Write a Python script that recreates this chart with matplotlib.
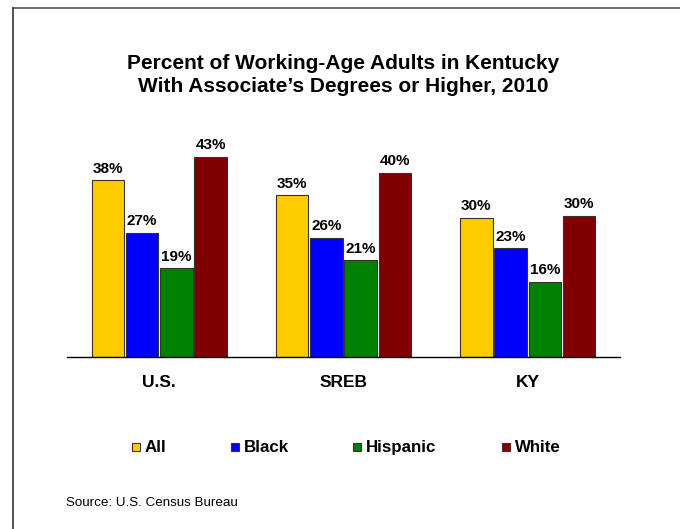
import numpy as np
import matplotlib
matplotlib.use('Agg')
import matplotlib.pyplot as plt
from matplotlib.lines import Line2D
from matplotlib.patches import Rectangle

plt.rcParams['font.family'] = ['Liberation Sans', 'DejaVu Sans']

# Data
regions = ['U.S.', 'SREB', 'KY']
groups = ['All', 'Black', 'Hispanic', 'White']
all_vals = [38.0, 34.8, 29.9]
black_vals = [26.7, 25.6, 23.4]
hispanic_vals = [19.1, 20.8, 16.1]
white_vals = [43.0, 39.6, 30.3]
colors = ['#FFCC00', '#0000FF', '#008000', '#800000']

series = [all_vals, black_vals, hispanic_vals, white_vals]

W, H = 680, 529
fig = plt.figure(figsize=(6.8, 5.29), dpi=100)
ax = fig.add_axes([67 / W, 1 - 357 / H, 553 / W, 232.5 / H])

x = np.arange(len(regions))
width = 0.176
step = 0.186
offsets = (np.arange(4) - 1.5) * step

for vals, off, col, name in zip(series, offsets, colors, groups):
    bars = ax.bar(x + off, vals, width, color=col, edgecolor='#333333',
                  linewidth=0.8, label=name)
    for b, v in zip(bars, vals):
        ax.text(b.get_x() + b.get_width() / 2, v + 1.0, f"{v:.0f}%",
                ha='center', va='bottom', fontsize=11, fontweight='bold')

ax.set_xlim(-0.5, 2.5)
ax.set_ylim(0, 50)
ax.set_yticks([])
ax.set_xticks(x)
ax.set_xticklabels(regions, fontsize=12.5, fontweight='bold')
ax.tick_params(axis='x', length=0, pad=13)
for s in ['top', 'right', 'left']:
    ax.spines[s].set_visible(False)
ax.spines['bottom'].set_linewidth(1.0)

fig.text(343 / W, 1 - 75 / H,
         "Percent of Working-Age Adults in Kentucky\nWith Associate\u2019s Degrees or Higher, 2010",
         ha='center', va='center', fontsize=15, fontweight='bold', linespacing=1.27)

# legend drawn by hand so all labels sit on one baseline
legend_x = [132, 231, 353, 502]
for col, name, lx in zip(colors, groups, legend_x):
    fig.add_artist(Rectangle((lx / W, 1 - 451 / H), 8 / W, 8 / H,
                             transform=fig.transFigure, facecolor=col,
                             edgecolor='#333333', linewidth=0.8))
    fig.text((lx + 13) / W, 1 - 452 / H, name, ha='left', va='baseline',
             fontsize=12.2, fontweight='bold')

fig.text(66 / W, 1 - 503 / H, "Source: U.S. Census Bureau", fontsize=9.6,
         ha='left', va='center')

# Border lines (rectangle running past right and bottom edges)
fig.add_artist(Line2D([13 / W, 1.0], [1 - 8 / H, 1 - 8 / H],
                      transform=fig.transFigure, color='#555555', linewidth=1.2))
fig.add_artist(Line2D([13 / W, 13 / W], [1 - 8 / H, 0.0],
                      transform=fig.transFigure, color='#333333', linewidth=1.2))

fig.savefig('out.png', dpi=100)
